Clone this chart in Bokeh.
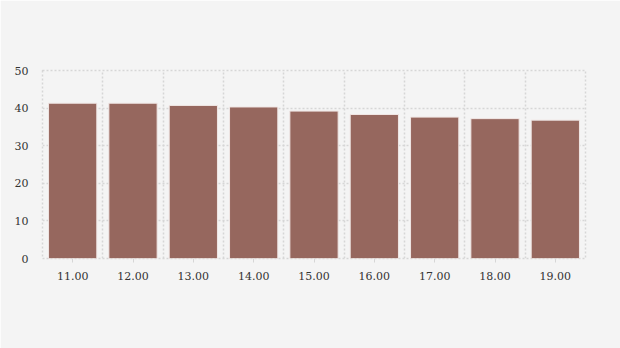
from bokeh.plotting import figure
from bokeh.models import FixedTicker, Range1d
from bokeh.embed import file_html
from bokeh.resources import INLINE

categories = ["11.00", "12.00", "13.00", "14.00", "15.00", "16.00", "17.00", "18.00", "19.00"]
values = [41.3, 41.3, 40.7, 40.3, 39.2, 38.3, 37.6, 37.2, 36.8]
y_ticks = [0, 10, 20, 30, 40, 50]

n = len(categories)
centers = [i + 0.5 for i in range(n)]

p = figure(width=620, height=348, output_backend="svg", toolbar_location=None,
           x_range=Range1d(0, n), y_range=Range1d(0, 50),
           min_border_left=42, min_border_right=35, min_border_top=70, min_border_bottom=90)
p.background_fill_color = "#f4f4f4"
p.border_fill_color = "#f4f4f4"
p.outline_line_color = "#d6d6d6"
p.outline_line_dash = "2 2"
p.outline_line_width = 1.5

p.vbar(x=centers, top=values, width=0.8, fill_color="#96675e", line_color="#f0e6e4", line_width=1)

p.xaxis.ticker = FixedTicker(ticks=centers)
p.xaxis.major_label_overrides = {c: lab for c, lab in zip(centers, categories)}
p.xgrid.ticker = FixedTicker(ticks=list(range(n + 1)))
p.yaxis.ticker = FixedTicker(ticks=y_ticks)
p.ygrid.ticker = FixedTicker(ticks=y_ticks)

for g in (p.xgrid, p.ygrid):
    g.grid_line_color = "#d6d6d6"
    g.grid_line_dash = "2 2"
    g.grid_line_width = 1.5

for ax in (p.xaxis, p.yaxis):
    ax.axis_line_color = None
    ax.minor_tick_line_color = None
    ax.major_label_text_font = "DejaVu Serif"
    ax.major_label_text_font_size = "11px"
    ax.major_label_text_color = "#333333"

p.xaxis.major_tick_line_color = "#d6d6d6"
p.xaxis.major_tick_in = 0
p.xaxis.major_tick_out = 4
p.xaxis.major_label_standoff = 9
p.yaxis.major_tick_line_color = None
p.yaxis.major_label_standoff = 8

open("out.html", "w").write(file_html(p, INLINE))
